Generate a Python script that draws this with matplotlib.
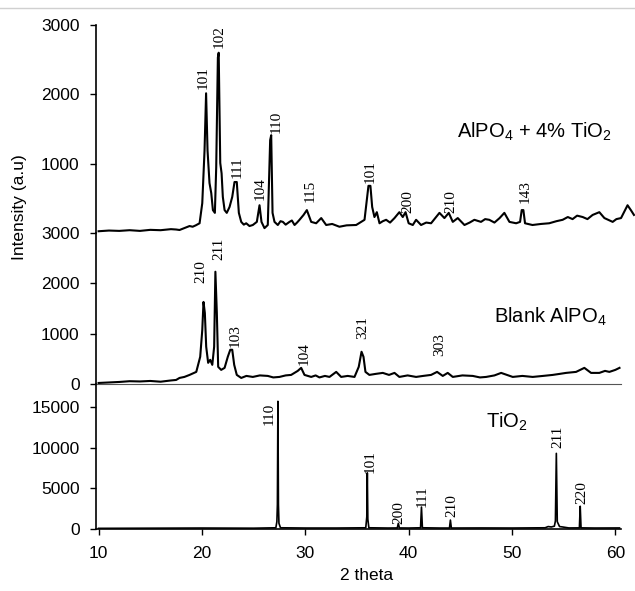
import matplotlib
matplotlib.use("Agg")
import matplotlib.pyplot as plt
from matplotlib.lines import Line2D

plt.rcParams['font.family'] = ['Liberation Sans', 'DejaVu Sans']
plt.rcParams['mathtext.fontset'] = 'custom'
plt.rcParams['mathtext.rm'] = 'Liberation Sans'
plt.rcParams['mathtext.it'] = 'Liberation Sans:italic'
plt.rcParams['mathtext.bf'] = 'Liberation Sans:bold'

# AlPO4 + 4% TiO2 谱线 (2theta, 强度)
top_x = [10, 11, 12, 13, 14, 15, 16, 17, 17.5, 17.83, 18.3, 18.8, 19.1, 19.4, 19.77, 20.03, 20.25,
         20.4, 20.54, 20.73, 20.9, 21.06, 21.25, 21.38, 21.54, 21.62, 21.77, 21.9, 22.02, 22.19,
         22.4, 22.67, 22.93, 23.15, 23.37, 23.57, 23.8, 24.05, 24.28, 24.6, 24.92, 25.31, 25.57,
         25.76, 26.05, 26.37, 26.6, 26.7, 26.83, 27.02, 27.34, 27.6, 27.83, 28.1, 28.47, 28.7,
         28.96, 29.2, 29.44, 29.83, 30.15, 30.57, 31.05, 31.54, 32.02, 32.6, 33.3, 34.0, 34.92,
         35.73, 35.98, 36.11, 36.3, 36.47, 36.69, 36.92, 37.18, 37.5, 37.82, 38.2, 38.63, 39.1,
         39.43, 39.7, 40.0, 40.4, 40.72, 41.2, 41.7, 42.17, 42.98, 43.46, 43.88, 44.27, 44.75,
         45.4, 45.9, 46.36, 47.0, 47.4, 47.8, 48.3, 48.8, 49.26, 49.75, 50.4, 50.78, 50.94, 51.1,
         51.26, 51.98, 52.8, 53.6, 54.3, 54.9, 55.4, 55.86, 56.3, 56.84, 57.3, 57.8, 58.45,
         58.94, 59.3, 59.74, 60.1, 60.55, 61.18, 61.5, 61.8]
top_y = [25, 35, 30, 40, 30, 45, 40, 55, 50, 43, 70, 100, 90, 110, 140, 430, 1190,
         2015, 1190, 720, 575, 330, 290, 950, 2530, 2600, 1010, 860, 520, 330,
         290, 375, 520, 735, 735, 290, 160, 120, 140, 100, 115, 160, 400,
         160, 70, 115, 1340, 1410, 290, 160, 115, 170, 160, 120, 160, 180,
         115, 150, 190, 260, 330, 160, 140, 215, 115, 130, 90, 110, 115,
         190, 520, 680, 680, 375, 230, 300, 140, 170, 190, 150, 215, 300,
         230, 300, 140, 115, 190, 115, 150, 140, 290, 215, 290, 160, 215,
         115, 150, 190, 160, 200, 190, 150, 215, 290, 160, 140, 160, 330, 330,
         140, 115, 130, 140, 170, 190, 230, 200, 250, 230, 200, 260, 300,
         215, 190, 160, 200, 215, 400, 330, 260]

# Blank AlPO4 谱线
mid_x = [10, 11, 12, 13, 14, 15, 16, 17, 17.5, 17.83, 18.3, 18.8, 19.45, 19.83, 20.03, 20.15, 20.28,
         20.41, 20.6, 20.8, 21.0, 21.18, 21.3, 21.44, 21.57, 21.86, 22.19, 22.5, 22.74, 22.93,
         23.12, 23.37, 23.8, 24.3, 24.92, 25.6, 26.37, 26.9, 27.5, 28.1, 28.63, 29.27, 29.6,
         29.92, 30.57, 31.0, 31.37, 31.9, 32.34, 32.99, 33.47, 34.1, 34.76, 35.17, 35.44, 35.63,
         35.82, 36.2, 36.8, 37.5, 38.1, 38.63, 39.1, 39.9, 40.72, 41.4, 42.17, 42.75, 43.3, 43.78,
         44.27, 45.2, 46.2, 46.9, 47.5, 48.3, 48.95, 50.07, 51.0, 52.0, 53.0, 53.94, 54.6, 55.23,
         56.2, 57.0, 57.65, 58.45, 59.0, 59.42, 60.0, 60.4]
mid_y = [20, 30, 40, 55, 50, 60, 45, 70, 80, 120, 140, 180, 240, 540, 1070, 1630, 1410,
         740, 420, 480, 380, 740, 2230, 1410, 340, 280, 320, 540, 680, 680,
         380, 180, 120, 160, 140, 170, 160, 130, 140, 170, 180, 260, 320,
         180, 140, 170, 130, 160, 140, 240, 140, 160, 140, 340, 640, 540,
         240, 180, 200, 220, 180, 220, 140, 170, 140, 160, 180, 240, 160, 220,
         140, 170, 160, 130, 140, 170, 220, 140, 160, 140, 160, 180, 200, 220,
         240, 320, 220, 220, 260, 240, 280, 320]

# TiO2 谱线
tio2_x = [10, 15, 20, 25, 27.15, 27.25, 27.3, 27.35, 27.4, 27.45, 27.6, 30, 33, 35.85, 35.95, 36.0,
          36.05, 36.15, 38, 38.9, 39.0, 39.1, 40, 41.15, 41.24, 41.33, 43, 43.95, 44.04, 44.13,
          47, 50, 53.2, 53.5, 53.8, 54.1, 54.2, 54.29, 54.38, 54.6, 54.9, 55.5, 56.52, 56.6,
          56.68, 58, 60.4]
tio2_y = [80, 100, 120, 100, 150, 900, 3000, 15700, 3000, 700, 150, 120, 120, 150, 1500, 6900,
          1200, 150, 120, 130, 700, 130, 120, 150, 2700, 150, 120, 120, 1100, 120,
          130, 120, 150, 300, 250, 350, 1000, 9300, 900, 300, 250, 130, 140, 2800,
          140, 120, 130]

# 峰的晶面指数标注 (文字位置)
top_lab = ['101', '102', '111', '104', '110', '115', '101', '200', '210', '143']
top_lab_x = [20.15, 21.7, 23.44, 25.67, 27.2, 30.5, 36.3, 39.9, 44.1, 51.3]
top_lab_y = [2072, 2662, 791, 475, 1439, 446, 719, 288, 288, 432]

mid_lab = ['210', '211', '103', '104', '321', '303']
mid_lab_x = [19.86, 21.6, 23.25, 29.9, 35.6, 43.0]
mid_lab_y = [2008, 2465, 736, 378, 895, 557]

tio2_lab = ['110', '101', '200', '111', '210', '211', '220']
tio2_lab_x = [26.5, 36.3, 39.1, 41.3, 44.2, 54.4, 56.8]
tio2_lab_y = [12790, 6890, 615, 2700, 1480, 9960, 3070]

fig = plt.figure(figsize=(6.35, 5.91), dpi=100)
left, width = 0.1504, 0.8268
ax1 = fig.add_axes([left, 0.6058, width, 0.3519])
ax2 = fig.add_axes([left, 0.3503, width, 0.2555])
ax3 = fig.add_axes([left, 0.1049, width, 0.2453])

lab_font = dict(family='Liberation Serif', fontsize=11, rotation=90, ha='center', va='bottom')

ax1.plot(top_x, top_y, color='black', lw=1.5, clip_on=False)
ax1.set_ylim(0, 3000)
ax1.set_yticks([1000, 2000, 3000])
for t, x, y in zip(top_lab, top_lab_x, top_lab_y):
    ax1.text(x, y, t, **lab_font)
ax1.text(44.7, 1381, r'AlPO$_4$ + 4% TiO$_2$', fontsize=14.5, ha='left', va='baseline')

ax2.plot(mid_x, mid_y, color='black', lw=1.5)
ax2.set_ylim(0, 3000)
ax2.set_yticks([0, 1000, 2000, 3000])
for t, x, y in zip(mid_lab, mid_lab_x, mid_lab_y):
    ax2.text(x, y, t, **lab_font)
ax2.text(48.3, 1213, r'Blank AlPO$_4$', fontsize=14.5, ha='left', va='baseline')

ax3.plot(tio2_x, tio2_y, color='black', lw=1.2)
ax3.set_ylim(0, 17830)
ax3.set_yticks([0, 5000, 10000, 15000])
for t, x, y in zip(tio2_lab, tio2_lab_x, tio2_lab_y):
    ax3.text(x, y, t, **lab_font)
ax3.text(47.5, 12420, r'TiO$_2$', fontsize=14.5, ha='left', va='baseline')

for ax in (ax1, ax2, ax3):
    ax.set_xlim(9.7, 60.5)
    ax.spines['top'].set_visible(False)
    ax.spines['right'].set_visible(False)
    ax.spines['left'].set_linewidth(1.2)
    ax.tick_params(axis='y', direction='out', length=4.5, width=1.0, pad=7, labelsize=12.5)
    ax.patch.set_visible(False)

ax1.spines['bottom'].set_visible(False)
ax1.set_xticks([])
ax2.set_xticks([])
ax2.spines['bottom'].set_color('#555555')
ax3.spines['bottom'].set_linewidth(1.2)
ax3.set_xticks([10, 20, 30, 40, 50, 60])
ax3.tick_params(axis='x', direction='out', length=4, width=1.0, pad=8, labelsize=12.5)

fig.text(367 / 635, 1 - 575 / 591, '2 theta', ha='center', va='center', fontsize=12.5)
fig.text(20 / 635, 1 - 207 / 591, 'Intensity (a.u)', ha='center', va='center', rotation=90, fontsize=12.5)

# 页面顶部的灰线
fig.add_artist(Line2D([0, 1], [1 - 8 / 591, 1 - 8 / 591], color='#d0d0d0', lw=1))

fig.savefig('out.png', dpi=100)
